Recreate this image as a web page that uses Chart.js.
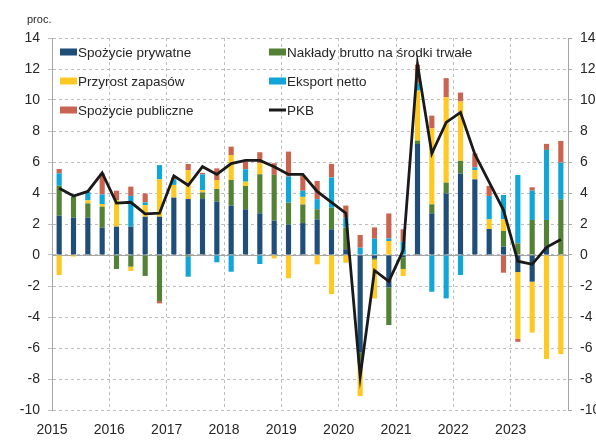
<!DOCTYPE html>
<html lang="pl">
<head>
  <meta charset="UTF-8" />
  <title>Wkład do wzrostu PKB</title>
  <script src="https://cdn.jsdelivr.net/npm/chart.js@4"></script>
  <style>
    html, body { margin: 0; padding: 0; background: #fff; }
    #wrap { width: 596px; height: 441px; }
  </style>
</head>
<body>
  <div id="wrap"><canvas id="chart" width="596" height="441"></canvas></div>

  <script>
    // kwartały 2015-2023
    const quarters = [
      '2015 Q1', '2015 Q2', '2015 Q3', '2015 Q4',
      '2016 Q1', '2016 Q2', '2016 Q3', '2016 Q4',
      '2017 Q1', '2017 Q2', '2017 Q3', '2017 Q4',
      '2018 Q1', '2018 Q2', '2018 Q3', '2018 Q4',
      '2019 Q1', '2019 Q2', '2019 Q3', '2019 Q4',
      '2020 Q1', '2020 Q2', '2020 Q3', '2020 Q4',
      '2021 Q1', '2021 Q2', '2021 Q3', '2021 Q4',
      '2022 Q1', '2022 Q2', '2022 Q3', '2022 Q4',
      '2023 Q1', '2023 Q2', '2023 Q3', '2023 Q4'
    ];
    const yearLabels = ['2015', '2016', '2017', '2018', '2019', '2020', '2021', '2022', '2023'];

    // wkłady do wzrostu PKB (pkt proc.)
    const privateCons = [
      2.54, 2.41, 2.41, 1.76,  1.83, 1.83, 2.47, 2.47,  3.70, 3.61, 3.61, 3.44,
      3.18, 2.95, 2.69, 2.22,  1.96, 2.06, 2.30, 1.66,  0.37, -6.30, -0.20, -2.09,
      -0.15, 7.16, 2.69, 3.97,  5.25, 4.88, 1.68, 0.54,  -1.10, -1.72, 0.54, 0
    ];
    const investment = [
      1.93, 1.35, 0.92, 1.36,  -0.90, -0.75, -1.35, -2.97,  0, -0.10, 0.43, 0.82,
      1.66, 1.50, 2.52, 2.95,  1.42, 1.20, 0.65, 1.40,  1.40, -0.65, -0.10, -2.43,
      -0.75, 0.22, 0.58, 0.70,  0.82, 0, 0, 1.01,  0.75, 2.26, 1.72, 3.59
    ];
    const inventories = [
      -1.29, -0.10, 0.20, 0.17,  1.72, -0.28, 0.75, 2.41,  0.82, 1.87, 0.15, 0.58,
      1.61, 0.28, 0.71, -0.22,  -1.50, 0.49, -0.60, -2.52,  -0.50, -2.15, -2.50, 0.90,
      -0.45, 3.23, 4.90, 5.51,  3.83, 0.60, 0.62, 0.75,  -4.30, -3.29, -6.71, -6.39
    ];
    const netExports = [
      0.80, 0, 0.54, 0.62,  0, 1.98, 0.17, 0.92,  0.37, -1.30, 1.01, -0.47,
      -1.08, 0.80, -0.58, 0,  1.68, 0.39, 0.65, 1.94,  0.65, 0.47, 1.05, 0.17,
      0.86, 0.47, -2.37, -2.80,  -1.29, 0.17, 1.51, 1.57,  4.41, 1.89, 4.52, 2.37
    ];
    const publicCons = [
      0.28, 0, 0, 1.35,  0.60, 0.60, 0.58, -0.15,  0.13, 0.39, 0.10, 0.75,
      0.54, 0.50, 0.71, 0.75,  1.61, 0.98, 1.18, 0.88,  0.77, 0.82, 0.73, 1.61,
      0.80, 1.20, 0.82, 1.23,  0.58, 0.90, 0.65, -1.14,  -0.20, 0.22, 0.39, 1.40
    ];
    const gdp = [
      4.3, 3.8, 4.1, 5.3,  3.35, 3.4, 2.65, 2.7,  5.1, 4.5, 5.7, 5.2,
      5.9, 6.1, 6.1, 5.7,  5.2, 5.2, 4.1, 3.4,  2.7, -7.85, -1.0, -1.7,
      0.3, 12.3, 6.55, 8.55,  9.2, 6.5, 4.7, 2.9,  -0.4, -0.6, 0.5, 1.0
    ];

    const FONT = '"Liberation Sans", Arial, sans-serif';
    const TEXT = '#262626';
    const GRID = '#bdbdbd';
    const AXIS = '#a6a6a6';

    function bar(label, data, color) {
      return {
        type: 'bar', label, data,
        backgroundColor: color,
        borderWidth: 0,
        barPercentage: 0.36,
        categoryPercentage: 1,
        order: 1
      };
    }

    // legenda w polu wykresu, linia zera i opis jednostki
    const overlay = {
      id: 'overlay',
      beforeDatasetsDraw(chart) {
        const { ctx, chartArea: a, scales: { y } } = chart;
        const y0 = Math.round(y.getPixelForValue(0)) + 0.5;
        ctx.save();
        ctx.strokeStyle = AXIS;
        ctx.lineWidth = 1;
        ctx.beginPath();
        ctx.moveTo(a.left, y0);
        ctx.lineTo(a.right, y0);
        ctx.stroke();
        ctx.restore();
      },
      afterDraw(chart) {
        const { ctx } = chart;
        const colX = [60, 269];
        const rowY = [52, 81, 110];
        ctx.save();
        ctx.font = '13.5px ' + FONT;
        ctx.textBaseline = 'middle';
        chart.data.datasets.forEach((ds, i) => {
          const x = colX[i % 2];
          const cy = rowY[Math.floor(i / 2)];
          if (ds.type === 'line') {
            ctx.fillStyle = ds.borderColor;
            ctx.fillRect(x, cy - 1.5, 17, 3);
          } else {
            ctx.fillStyle = ds.backgroundColor;
            ctx.fillRect(x, cy - 3.5, 17, 7);
          }
          ctx.fillStyle = TEXT;
          ctx.fillText(ds.label, x + 18, cy + 1);
        });
        ctx.font = '11px ' + FONT;
        ctx.fillText('proc.', 27, 20);
        ctx.restore();
      }
    };

    const chart = new Chart(document.getElementById('chart'), {
      data: {
        labels: quarters,
        datasets: [
          bar('Spożycie prywatne', privateCons, '#1f4e79'),
          bar('Nakłady brutto na środki trwałe', investment, '#538135'),
          bar('Przyrost zapasów', inventories, '#ffc924'),
          bar('Eksport netto', netExports, '#12a6d8'),
          bar('Spożycie publiczne', publicCons, '#c8644f'),
          {
            type: 'line', label: 'PKB', data: gdp,
            borderColor: '#1a1a1a', borderWidth: 2.8,
            pointRadius: 0, tension: 0, fill: false,
            stack: 'pkb', order: 0
          }
        ]
      },
      options: {
        responsive: false,
        animation: false,
        devicePixelRatio: 1,
        layout: { padding: { top: 38, left: 0, right: 0, bottom: 0 } },
        plugins: { legend: { display: false }, tooltip: { enabled: false } },
        scales: {
          x: { display: false, stacked: true, offset: true },
          years: {
            type: 'linear', position: 'bottom', min: 0, max: 36,
            afterFit: s => { s.height = 31; },
            grid: { color: GRID, drawTicks: false },
            border: { display: false, dash: [3, 3] },
            ticks: {
              stepSize: 4, autoSkip: false, maxRotation: 0, padding: 12,
              color: TEXT, font: { family: FONT, size: 14 },
              callback: v => yearLabels[v / 4] || ''
            }
          },
          y: {
            stacked: true, position: 'left', min: -10, max: 14,
            afterFit: s => { s.width = 52; },
            grid: { color: GRID, tickLength: 4 },
            border: { display: true, color: AXIS, dash: [3, 3] },
            ticks: { stepSize: 2, padding: 8, color: TEXT, font: { family: FONT, size: 14 } }
          },
          y2: {
            position: 'right', min: -10, max: 14,
            afterFit: s => { s.width = 28; },
            grid: { drawOnChartArea: false, color: AXIS, tickLength: 4 },
            border: { display: true, color: AXIS },
            ticks: { stepSize: 2, padding: 8, color: TEXT, font: { family: FONT, size: 14 } }
          }
        }
      },
      plugins: [overlay]
    });
  </script>
</body>
</html>
